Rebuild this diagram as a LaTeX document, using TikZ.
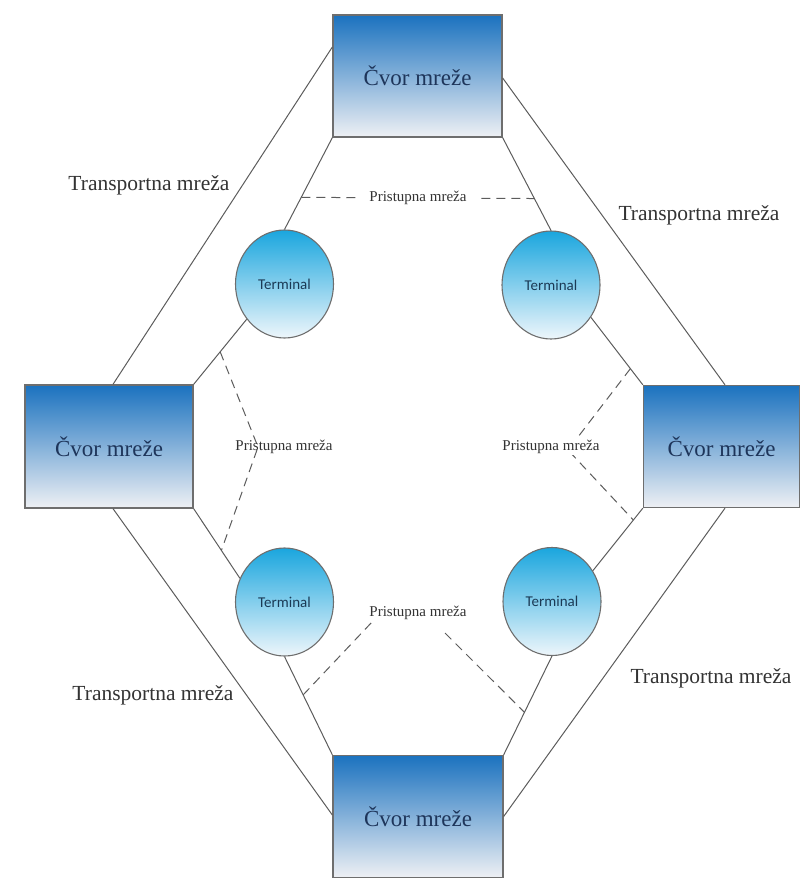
\documentclass[tikz,border=0pt]{standalone}
\usepackage{fontspec}
\setmainfont{Liberation Serif}
\newfontfamily\termfont{Carlito}
\newfontfamily\boxfont{Liberation Serif}
\usetikzlibrary{shapes.geometric,calc}
\definecolor{boxtop}{HTML}{1B72BF}
\definecolor{boxbot}{HTML}{EEF0F4}
\definecolor{circtop}{HTML}{1AA6DE}
\definecolor{circbot}{HTML}{EEF6FB}
\definecolor{edgegray}{HTML}{5C5C5C}
\definecolor{bordergray}{HTML}{6E6E6E}
\definecolor{navytext}{HTML}{1E355A}
\definecolor{termtext}{HTML}{1B3A55}
\definecolor{labeltext}{HTML}{333333}
\begin{document}
\begin{tikzpicture}[x=1pt,y=-1pt,
  nodebox/.style={rectangle,draw=bordergray,line width=1.3pt,top color=boxtop,bottom color=boxbot,
    inner sep=0pt,text=navytext,font=\boxfont\fontsize{23}{26}\selectfont},
  termnode/.style={ellipse,draw=bordergray,line width=1.1pt,top color=circtop,bottom color=circbot,
    minimum width=98pt,minimum height=108pt,inner sep=0pt,text=termtext,font=\termfont\fontsize{15}{17}\selectfont},
  link/.style={draw=edgegray,line width=1pt},
  accdash/.style={draw=edgegray,line width=1pt,dash pattern=on 9pt off 6pt},
  translabel/.style={text=labeltext,font=\boxfont\fontsize{21.5}{24}\selectfont,inner sep=1pt},
  acclabel/.style={text=labeltext,font=\boxfont\fontsize{15}{17}\selectfont,inner sep=1pt}
]
\useasboundingbox (0,0) rectangle (800,880);
% network nodes
\node[nodebox,minimum width=169pt,minimum height=122pt] (top) at (417.5,76) {Čvor mreže};
\node[nodebox,minimum width=168pt,minimum height=123pt] (left) at (109,446.5) {Čvor mreže};
\node[nodebox,minimum width=156pt,minimum height=122pt] (right) at (721.5,446.5) {Čvor mreže};
\node[nodebox,minimum width=170pt,minimum height=122pt] (bottom) at (418,816.5) {Čvor mreže};
% terminals
\node[termnode] (tl) at (284.5,284) {Terminal};
\node[termnode] (tr) at (551,285) {Terminal};
\node[termnode] (bl) at (284.5,602) {Terminal};
\node[termnode] (br) at (552,601.5) {Terminal};
% transport network
\draw[link] ([yshift=29pt]top.west) -- ([xshift=4pt]left.north);
\draw[link] ([yshift=-2pt]top.east) -- ([xshift=3.5pt]right.north);
\draw[link] ([xshift=4pt]left.south) -- ([yshift=1.5pt]bottom.west);
\draw[link] ([xshift=3.5pt]right.south) -- (bottom.east);
% access links
\draw[link] (top.south west) -- (tl.90);
\draw[link] (tl.223) -- (left.north east);
\draw[link] (top.south east) -- (tr.90);
\draw[link] (tr.321) -- (right.north west);
\draw[link] (left.south east) -- (bl.152);
\draw[link] (bl.270) -- (bottom.north west);
\draw[link] (right.south west) -- (br.37);
\draw[link] (br.270) -- (bottom.north east);
% access network dashed markers
\coordinate (ta) at ($(top.south west)!0.65!(tl.90)$);
\coordinate (tb) at ($(top.south east)!0.656!(tr.90)$);
\coordinate (la) at ($(tl.223)!0.5!(left.north east)$);
\coordinate (lb) at ($(left.south east)!0.6!(bl.152)$);
\coordinate (lv) at (258,447);
\coordinate (ra) at ($(tr.321)!0.76!(right.north west)$);
\coordinate (rb) at ($(right.south west)!0.19!(br.37)$);
\coordinate (rv) at (568,450);
\coordinate (ba) at ($(bl.270)!0.39!(bottom.north west)$);
\coordinate (bb) at ($(br.270)!0.57!(bottom.north east)$);
\coordinate (bal) at (372,622);
\coordinate (bbr) at (445,633);
\draw[accdash] (ta) -- (tb);
\draw[accdash] (la) -- (lv) -- (lb);
\draw[accdash] (ra) -- (rv) -- (rb);
\draw[accdash] (ba) -- (bal);
\draw[accdash] (bbr) -- (bb);
\node[acclabel,fill=white,inner xsep=9pt] (acctop) at (418,198) {Pristupna mreža};
\node[acclabel] (accleft) at (284,447) {Pristupna mreža};
\node[acclabel,fill=white] (accright) at (551,447) {Pristupna mreža};
\node[acclabel] (accbottom) at (418,613) {Pristupna mreža};
% transport labels
\node[translabel] (ttl) at (149,185) {Transportna mreža};
\node[translabel] (ttr) at (699,215) {Transportna mreža};
\node[translabel] (tbl) at (153,695) {Transportna mreža};
\node[translabel] (tbr) at (711,678) {Transportna mreža};
\end{tikzpicture}
\end{document}
